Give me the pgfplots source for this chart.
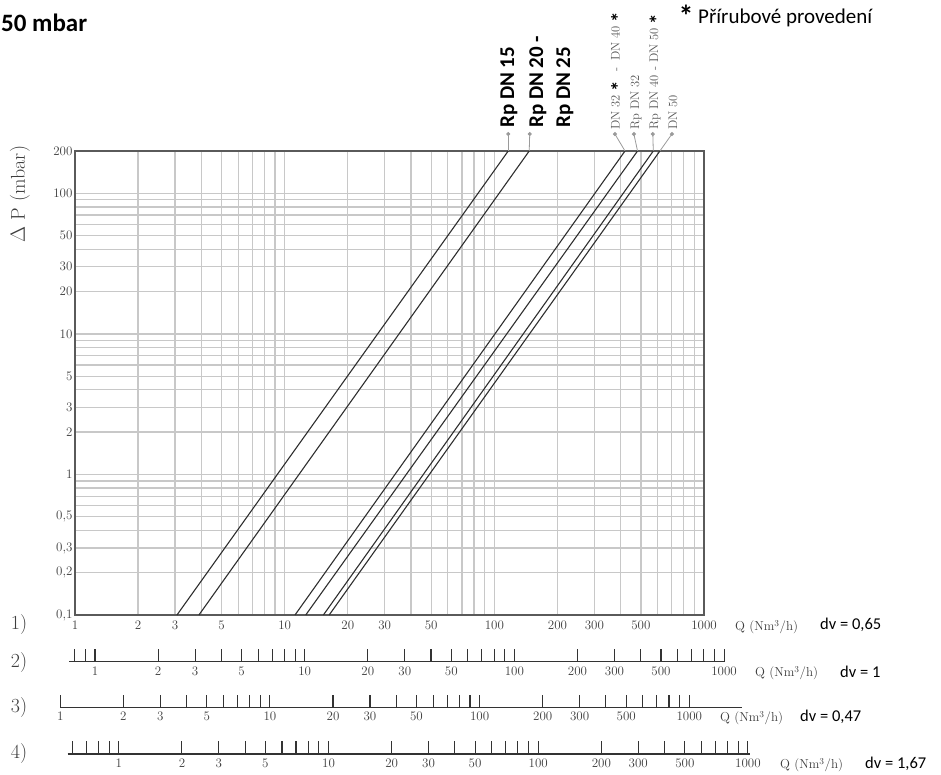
\documentclass[border=0pt]{standalone}
\usepackage{fontspec}
\usepackage{pgfplots}
\pgfplotsset{compat=1.18}
\newfontfamily\calfont{Carlito}
\definecolor{gridc}{HTML}{C8C8C8}
\definecolor{axc}{HTML}{5A5A5A}
\definecolor{txt}{HTML}{3E3E3E}
\definecolor{lead}{HTML}{9A9A9A}
\definecolor{lc}{HTML}{2E2E2E}
\definecolor{lbl}{HTML}{555555}
\newcommand{\bstar}{{\color{black}\calfont\bfseries\fontsize{21}{21}\selectfont\,\raisebox{-6.5pt}{*}}}
\begin{document}
\begin{tikzpicture}[x=1pt,y=1pt]
\path[use as bounding box] (0,0) rectangle (941,774);

\begin{axis}[
  at={(75pt,159pt)}, anchor=south west,
  width=629pt, height=464pt, scale only axis,
  xmode=log, ymode=log,
  xmin=1, xmax=1000, ymin=0.1, ymax=200,
  xtick={1,2,3,5,10,20,30,50,100,200,300,500,1000},
  xticklabels={1,2,3,5,10,20,30,50,100,200,300,500,1000},
  minor xtick={4,6,7,8,9,40,60,70,80,90,400,600,700,800,900},
  ytick={0.1,0.2,0.3,0.5,1,2,3,5,10,20,30,50,100,200},
  yticklabels={0{,}1,0{,}2,0{,}3,0{,}5,1,2,3,5,10,20,30,50,100,200},
  minor ytick={0.4,0.6,0.7,0.8,0.9,4,6,7,8,9,40,60,70,80,90},
  grid=both,
  major grid style={gridc, line width=1.3pt},
  minor grid style={gridc, line width=1.3pt},
  major tick length=0pt, minor tick length=0pt,
  axis line style={axc, line width=1.8pt},
  ticklabel style={font=\fontsize{13}{13}\selectfont, text=txt},
  xticklabel style={anchor=north, yshift=-2pt},
  yticklabel style={anchor=east, xshift=1pt},
  clip=false,
]
% pressure drop lines
\addplot[lc, line width=1.1pt] coordinates {(3.064,0.1) (116.5,200)};
\addplot[lc, line width=1.1pt] coordinates {(3.90,0.1) (146.7,200)};
\addplot[lc, line width=1.1pt] coordinates {(11.2,0.1) (420,200)};
\addplot[lc, line width=1.1pt] coordinates {(12.6,0.1) (482,200)};
\addplot[lc, line width=1.1pt] coordinates {(15.3,0.1) (573,200)};
\addplot[lc, line width=1.1pt] coordinates {(16.3,0.1) (616,200)};
% leaders
\addplot[lead, line width=0.8pt, mark=*, mark size=1.6pt, mark indices={2}, mark options={lead}] coordinates {(116.5,200) (116.5,264)};
\addplot[lead, line width=0.8pt, mark=*, mark size=1.6pt, mark indices={2}, mark options={lead}] coordinates {(146.7,200) (147.5,264)};
\addplot[lead, line width=0.8pt, mark=*, mark size=1.6pt, mark indices={2}, mark options={lead}] coordinates {(420,200) (376,264)};
\addplot[lead, line width=0.8pt, mark=*, mark size=1.6pt, mark indices={2}, mark options={lead}] coordinates {(482,200) (463,264)};
\addplot[lead, line width=0.8pt, mark=*, mark size=1.6pt, mark indices={2}, mark options={lead}] coordinates {(573,200) (570,264)};
\addplot[lead, line width=0.8pt, mark=*, mark size=1.6pt, mark indices={2}, mark options={lead}] coordinates {(616,200) (703,264)};
\end{axis}

% scale 2 (dv = 1)
\begin{axis}[at={(69pt,112.3pt)}, anchor=south west,
  width=656pt, xmin=0.7516, xmax=1010,
  minor xtick={0.8,0.9,4,6,7,8,9,40,60,70,80,90,400,600,700,800,900},
  scale only axis, height=10pt, xmode=log, ymin=0, ymax=1,
  axis x line*=bottom, axis y line=none, ytick=\empty,
  x axis line style={black!80, line width=1.3pt, -},
  every tick/.style={black!80, line width=1.1pt},
  major tick length=13pt, minor tick length=13pt, tick align=inside,
  xtick={1,2,3,5,10,20,30,50,100,200,300,500,1000},
  xticklabels={1,2,3,5,10,20,30,50,100,200,300,500,1000},
  ticklabel style={font=\fontsize{13}{13}\selectfont, text=txt},
  xticklabel style={anchor=north, yshift=-1.5pt}]
\addplot[draw=none] coordinates {(1,0) (1000,0)};
\end{axis}
% scale 3 (dv = 0.47)
\begin{axis}[at={(60.2pt,66.3pt)}, anchor=south west,
  width=681.5pt, xmin=1, xmax=1778,
  minor xtick={4,6,7,8,9,40,60,70,80,90,400,600,700,800,900},
  scale only axis, height=10pt, xmode=log, ymin=0, ymax=1,
  axis x line*=bottom, axis y line=none, ytick=\empty,
  x axis line style={black!80, line width=1.3pt, -},
  every tick/.style={black!80, line width=1.1pt},
  major tick length=13pt, minor tick length=13pt, tick align=inside,
  xtick={1,2,3,5,10,20,30,50,100,200,300,500,1000},
  xticklabels={1,2,3,5,10,20,30,50,100,200,300,500,1000},
  ticklabel style={font=\fontsize{13}{13}\selectfont, text=txt},
  xticklabel style={anchor=north, yshift=-1pt}]
\addplot[draw=none] coordinates {(1,0) (1000,0)};
\end{axis}
% scale 4 (dv = 1.67)
\begin{axis}[at={(67.7pt,20pt)}, anchor=south west,
  width=682.3pt, xmin=0.5705, xmax=1023,
  minor xtick={0.6,0.7,0.8,0.9,4,6,7,8,9,40,60,70,80,90,400,600,700,800,900},
  scale only axis, height=10pt, xmode=log, ymin=0, ymax=1,
  axis x line*=bottom, axis y line=none, ytick=\empty,
  x axis line style={black!80, line width=1.3pt, -},
  every tick/.style={black!80, line width=1.1pt},
  major tick length=13pt, minor tick length=13pt, tick align=inside,
  xtick={1,2,3,5,10,20,30,50,100,200,300,500,1000},
  xticklabels={1,2,3,5,10,20,30,50,100,200,300,500,1000},
  ticklabel style={font=\fontsize{13}{13}\selectfont, text=txt},
  xticklabel style={anchor=north, yshift=-1pt}]
\addplot[draw=none] coordinates {(1,0) (1000,0)};
\end{axis}

% title and note
\node[anchor=base west, inner sep=0pt, font=\calfont\bfseries\fontsize{25}{25}\selectfont] at (1,742.5) {50 mbar};
\node[anchor=base west, inner sep=0pt, font=\calfont\fontsize{21}{21}\selectfont] at (698,750) {Přírubové provedení};
\node[anchor=base, inner sep=0pt, font=\calfont\bfseries\fontsize{30}{30}\selectfont] at (686,747) {*};

% rotated labels
\node[rotate=90, anchor=base west, inner sep=0pt, font=\calfont\bfseries\fontsize{21}{21}\selectfont] at (514,646) {Rp DN 15};
\node[rotate=90, anchor=base west, inner sep=0pt, font=\calfont\bfseries\fontsize{21}{21}\selectfont] at (543,646) {Rp DN 20 -};
\node[rotate=90, anchor=base west, inner sep=0pt, font=\calfont\bfseries\fontsize{21}{21}\selectfont] at (570,646) {Rp DN 25};
\node[rotate=90, anchor=base west, inner sep=0pt, text=lbl, font=\fontsize{12.5}{12.5}\selectfont] at (619.5,644) {DN 32\bstar\hspace{9pt}-\hspace{7pt}DN 40\bstar};
\node[rotate=90, anchor=base west, inner sep=0pt, text=lbl, font=\fontsize{12.5}{12.5}\selectfont] at (639,644) {Rp DN 32};
\node[rotate=90, anchor=base west, inner sep=0pt, text=lbl, font=\fontsize{12.5}{12.5}\selectfont] at (658,644) {Rp DN 40 - DN 50\bstar};
\node[rotate=90, anchor=base west, inner sep=0pt, text=lbl, font=\fontsize{12.5}{12.5}\selectfont] at (677,644) {DN 50};

% axis label
\node[rotate=90, text=txt, font=\fontsize{20}{20}\selectfont] at (20,580) {$\Delta$ P (mbar)};

% scale numbers
\foreach \t/\yy in {1)/149, 2)/111, 3)/66, 4)/20}
  \node[text=txt, font=\fontsize{20}{20}\selectfont] at (19,\yy) {\t};

% units and densities
\node[anchor=west, inner sep=0pt, text=txt, font=\fontsize{13}{13}\selectfont] at (735,147) {Q (Nm\textsuperscript{3}/h)};
\node[anchor=west, inner sep=0pt, text=txt, font=\fontsize{13}{13}\selectfont] at (755,101) {Q (Nm\textsuperscript{3}/h)};
\node[anchor=west, inner sep=0pt, text=txt, font=\fontsize{13}{13}\selectfont] at (720,56) {Q (Nm\textsuperscript{3}/h)};
\node[anchor=west, inner sep=0pt, text=txt, font=\fontsize{13}{13}\selectfont] at (780,9) {Q (Nm\textsuperscript{3}/h)};
\node[anchor=west, inner sep=0pt, font=\calfont\fontsize{16.5}{16.5}\selectfont] at (820,149) {dv = 0,65};
\node[anchor=west, inner sep=0pt, font=\calfont\fontsize{16.5}{16.5}\selectfont] at (840,102.5) {dv = 1};
\node[anchor=west, inner sep=0pt, font=\calfont\fontsize{16.5}{16.5}\selectfont] at (800,57.5) {dv = 0,47};
\node[anchor=west, inner sep=0pt, font=\calfont\fontsize{16.5}{16.5}\selectfont] at (865,10.5) {dv = 1,67};
\end{tikzpicture}
\end{document}
